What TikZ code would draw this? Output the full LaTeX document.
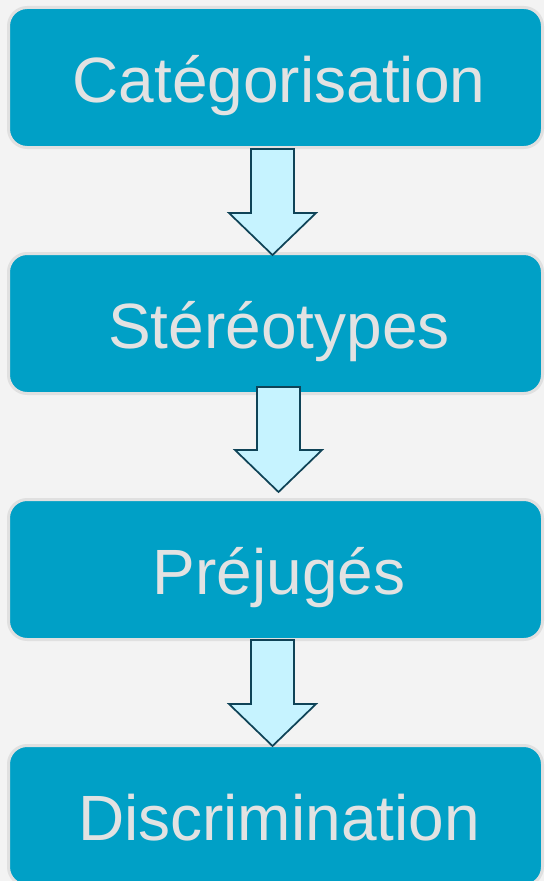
\documentclass[tikz,border=0pt]{standalone}
\usepackage{fontspec}
\setmainfont{Liberation Sans}

\definecolor{pagebg}{RGB}{243,243,243}
\definecolor{stagefill}{RGB}{0,160,198}
\definecolor{stageline}{RGB}{224,224,224}
\definecolor{stagetext}{RGB}{226,226,226}
\definecolor{arrowfill}{RGB}{198,243,255}
\definecolor{arrowline}{RGB}{15,67,87}

\tikzset{
  stage/.style={draw=stageline, line width=2.25pt, fill=stagefill, rounded corners=14pt,
    minimum width=400.5pt, minimum height=105pt, inner sep=0pt,
    text height=37.4pt, text depth=0pt, execute at begin node=\hspace*{5.25pt},
    text=stagetext, font=\fontsize{48}{56}\selectfont},
  blockarrow/.style={draw=arrowline, line width=1.3pt, fill=arrowfill, line join=miter}
}

\begin{document}
\begin{tikzpicture}[x=0.75pt,y=0.75pt,yscale=-1,xscale=1]
%set diagram left start at 0, and has height of 881
\useasboundingbox [fill=pagebg] (0,0) rectangle (544,881);

% Stage boxes
\node [stage] (cat) at (275.5,77.5) {Catégorisation};
\node [stage] (ster) at (275.5,323.5) {Stéréotypes};
\node [stage] (prej) at (275.5,569.5) {Préjugés};
\node [stage] (disc) at (275.5,815.5) {Discrimination};

% Block arrows
\draw [blockarrow] (cat.south) ++(-24.5,0) -- ++(43,0) -- ++(0,64) -- ++(22,0) -- ++(-43.5,42) -- ++(-43.5,-42) -- ++(22,0) -- cycle;
\draw [blockarrow] (ster.south) ++(-18.5,-8) -- ++(43,0) -- ++(0,63) -- ++(22,0) -- ++(-43.5,42) -- ++(-43.5,-42) -- ++(22,0) -- cycle;
\draw [blockarrow] (prej.south) ++(-24.5,-1) -- ++(43,0) -- ++(0,64) -- ++(22,0) -- ++(-43.5,42) -- ++(-43.5,-42) -- ++(22,0) -- cycle;

\end{tikzpicture}
\end{document}
